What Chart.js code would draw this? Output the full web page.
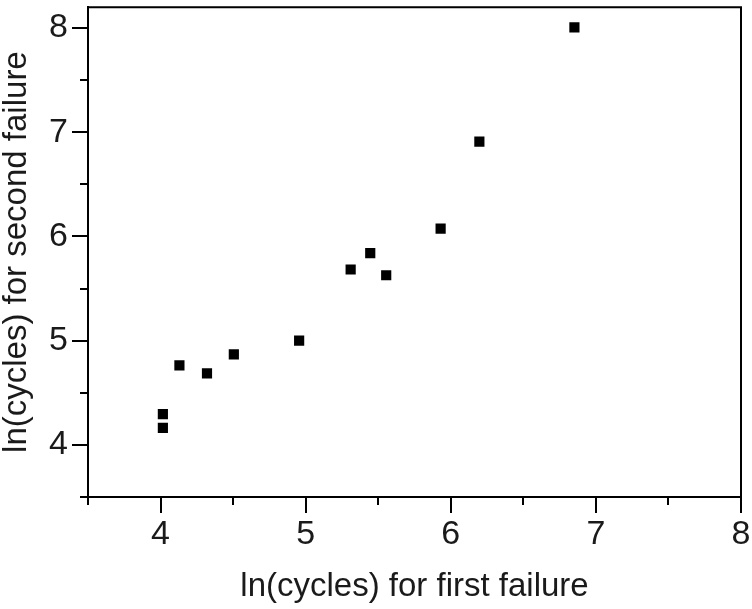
<!DOCTYPE html>
<html>
<head>
<meta charset="utf-8">
<script src="https://cdn.jsdelivr.net/npm/chart.js@4/dist/chart.umd.min.js"></script>
<style>
html,body{margin:0;padding:0;background:#fff;}
canvas{display:block;}
</style>
</head>
<body>
<canvas id="c" width="752" height="609"></canvas>
<script>
// Data
const firstFailure  = [4.016, 4.016, 4.13, 4.32, 4.505, 4.955, 5.31, 5.445, 5.555, 5.93, 6.197, 6.852];
const secondFailure = [4.295, 4.163, 4.763, 4.686, 4.868, 5.0, 5.683, 5.84, 5.628, 6.075, 6.91, 8.007];
const xTitle = 'ln(cycles) for first failure';
const yTitle = 'ln(cycles) for second failure';
const xRange = [3.5, 8];
const yRange = [3.5, 8.2];

const points = firstFailure.map((x, i) => ({x: x, y: secondFailure[i]}));

const FONT = "'Liberation Sans', Arial, sans-serif";
const INK = '#1a1a1a';

const frameTicks = {
  id: 'frameTicks',
  afterDraw(chart) {
    const ctx = chart.ctx;
    const a = chart.chartArea;
    ctx.save();
    ctx.strokeStyle = '#000';
    ctx.lineWidth = 2;
    ctx.lineCap = 'butt';
    // top and right frame lines
    ctx.beginPath();
    ctx.moveTo(a.left - 1, a.top);
    ctx.lineTo(a.right, a.top);
    ctx.lineTo(a.right, a.bottom);
    ctx.stroke();
    // tick marks: major at integers, minor at halves
    const xs = chart.scales.x, ys = chart.scales.y;
    xs.ticks.forEach(t => {
      const v = t.value;
      if (Math.abs(v * 2 - Math.round(v * 2)) > 1e-6) return;
      const len = Math.abs(v - Math.round(v)) < 1e-6 ? 16 : 8;
      const px = Math.round(xs.getPixelForValue(v));
      ctx.beginPath();
      ctx.moveTo(px, a.bottom);
      ctx.lineTo(px, a.bottom + len);
      ctx.stroke();
    });
    ys.ticks.forEach(t => {
      const v = t.value;
      if (Math.abs(v * 2 - Math.round(v * 2)) > 1e-6) return;
      const len = Math.abs(v - Math.round(v)) < 1e-6 ? 16 : 8;
      const py = Math.round(ys.getPixelForValue(v));
      ctx.beginPath();
      ctx.moveTo(a.left, py);
      ctx.lineTo(a.left - len, py);
      ctx.stroke();
    });
    ctx.restore();
  }
};

new Chart(document.getElementById('c'), {
  type: 'scatter',
  data: {
    datasets: [{
      data: points,
      pointStyle: 'rect',
      pointRadius: 7.2,
      pointHoverRadius: 7.2,
      backgroundColor: '#000',
      borderColor: '#000',
      borderWidth: 0
    }]
  },
  options: {
    responsive: false,
    animation: false,
    devicePixelRatio: 1,
    layout: {padding: {top: 6, right: 11, left: 0, bottom: 0}},
    plugins: {legend: {display: false}, tooltip: {enabled: false}},
    scales: {
      x: {
        type: 'linear',
        min: xRange[0], max: xRange[1],
        afterFit(s) { s.height = 112; s.paddingLeft = 0; s.paddingRight = 0; },
        border: {display: true, color: '#000', width: 2},
        grid: {display: true, drawOnChartArea: false, drawTicks: false},
        ticks: {
          stepSize: 0.5, autoSkip: false, maxRotation: 0, padding: 17,
          color: INK, font: {family: FONT, size: 34},
          callback: v => (Math.abs(v - Math.round(v)) < 1e-6 ? String(Math.round(v)) : '')
        },
        title: {display: true, text: xTitle, color: INK,
          font: {family: FONT, size: 33, lineHeight: 1}, padding: {top: 0, bottom: 6}}
      },
      y: {
        type: 'linear',
        min: yRange[0], max: yRange[1],
        afterFit(s) { s.width = 88; s.paddingTop = 0; s.paddingBottom = 0; },
        border: {display: true, color: '#000', width: 2},
        grid: {display: true, drawOnChartArea: false, drawTicks: false},
        ticks: {
          stepSize: 0.5, autoSkip: false, padding: 20, includeBounds: false,
          color: INK, font: {family: FONT, size: 34},
          callback: v => (Math.abs(v - Math.round(v)) < 1e-6 ? String(Math.round(v)) : '')
        },
        title: {display: true, text: yTitle, color: INK,
          font: {family: FONT, size: 33, lineHeight: 1}, padding: {top: 0, bottom: 0}}
      }
    }
  },
  plugins: [frameTicks]
});
</script>
</body>
</html>
